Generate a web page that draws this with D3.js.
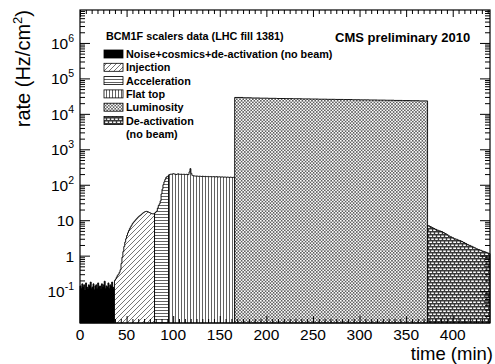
<!DOCTYPE html>
<html>
<head>
<meta charset="utf-8">
<script src="https://cdn.jsdelivr.net/npm/d3@7"></script>
<style>
  html, body { margin: 0; padding: 0; background: #fff; }
  svg { display: block; }
  text { font-family: "Liberation Sans", Arial, Helvetica, sans-serif; fill: #000; }
</style>
</head>
<body>
<svg id="chart" width="495" height="364"></svg>
<script>
// ---------- data ----------
const phaseNames = ["Noise+cosmics+de-activation (no beam)", "Injection", "Acceleration", "Flat top", "Luminosity", "De-activation"];
const phaseStart = [0, 37, 80, 95, 166, 373];   // min
const phaseEnd   = [37, 80, 95, 166, 373, 440]; // min
const binWidth   = [1, 1, 1, 1, 9, 2];          // min

const noiseVals = [0.14,0.12,0.16,0.13,0.15,0.11,0.17,0.13,0.12,0.15,
                   0.14,0.18,0.12,0.13,0.16,0.11,0.14,0.15,0.12,0.17,
                   0.13,0.14,0.12,0.16,0.13,0.15,0.19,0.12,0.14,0.13,
                   0.17,0.12,0.15,0.14,0.18,0.13,0.12];
const injectionVals = [0.2,0.22,0.25,0.28,0.3,0.34,0.4,0.6,0.9,1.3,
                       1.8,2.4,3.0,3.7,4.4,5.1,5.8,6.5,7.2,8.0,
                       8.7,9.3,10,10.7,11.4,12.2,12.9,13.5,14.2,15,
                       15.8,16.5,17.2,17.6,17.8,17.5,17,16.5,16,15.5,
                       15.2,15,15.3];
const accelerationVals = [16,17,18,22,26,29,35,55,75,100,120,140,160,170,175];
const flatTopVals = [190,195,200,198,202,205,200,198,195,200,
                     203,198,196,200,197,195,199,196,194,198,
                     195,193,230,285,210,185,180,178,176,175,
                     177,174,172,175,173,171,174,172,170,173,
                     171,169,172,170,168,171,169,167,170,168,
                     166,169,167,165,168,166,164,167,165,163,
                     166,164,162,165,163,161,164,162,160,163,161];
const luminosityVals = [29000,28400,28000,27700,27400,27100,26900,26700,26400,26200,
                        25900,25700,25500,25300,25000,24800,24600,24400,24200,23900,
                        23700,23500,23200];
const deactivationVals = [7.0,6.6,6.2,5.8,5.5,5.2,5.0,4.8,4.5,4.2,
                          3.9,3.6,3.4,3.2,3.0,2.9,2.75,2.65,2.5,2.35,
                          2.2,2.05,1.95,1.85,1.75,1.65,1.55,1.48,1.42,1.35,
                          1.3,1.24,1.18,1.14];
const phaseVals = [noiseVals, injectionVals, accelerationVals, flatTopVals, luminosityVals, deactivationVals];

const xTickValues = [0, 50, 100, 150, 200, 250, 300, 350, 400];
const yTickValues = [0.1, 1, 10, 100, 1e3, 1e4, 1e5, 1e6];
const yTickBase   = ["10", "1", "10", "10", "10", "10", "10", "10"];
const yTickExp    = ["-1", "", "", "2", "3", "4", "5", "6"];

const titleText  = "BCM1F scalers data (LHC fill 1381)";
const cmsText    = "CMS preliminary 2010";
const xAxisTitle = "time (min)";
const legendExtra = "(no beam)";

// ---------- layout ----------
const W = 495, H = 364;
const L = 80, R = 490, T = 10, B = 323;
const svg = d3.select("#chart");

const x = d3.scaleLinear().domain([0, 440]).range([L, R]);
const y = d3.scaleLog().domain([0.0126, 8.5e6]).range([B, T]);

// ---------- patterns ----------
const defs = svg.append("defs");
const hatchCol = "#3a3a3a";
const patIds = ["solid", "pInj", "pAcc", "pFlat", "pLumi", "pDeact"];

let p = defs.append("pattern").attr("id", "pInj").attr("patternUnits", "userSpaceOnUse").attr("width", 5).attr("height", 5);
p.append("rect").attr("width", 5).attr("height", 5).attr("fill", "#fff");
p.append("path").attr("d", "M0,5 L5,0 M-1,1 L1,-1 M4,6 L6,4").attr("stroke", hatchCol).attr("stroke-width", 0.7);

p = defs.append("pattern").attr("id", "pAcc").attr("patternUnits", "userSpaceOnUse").attr("width", 4).attr("height", 3);
p.append("rect").attr("width", 4).attr("height", 3).attr("fill", "#fff");
p.append("path").attr("d", "M0,1.5 L4,1.5").attr("stroke", hatchCol).attr("stroke-width", 0.8);

p = defs.append("pattern").attr("id", "pFlat").attr("patternUnits", "userSpaceOnUse").attr("width", 3).attr("height", 4);
p.append("rect").attr("width", 3).attr("height", 4).attr("fill", "#fff");
p.append("path").attr("d", "M1.5,0 L1.5,4").attr("stroke", hatchCol).attr("stroke-width", 0.8);

p = defs.append("pattern").attr("id", "pLumi").attr("patternUnits", "userSpaceOnUse").attr("width", 3.2).attr("height", 3.2);
p.append("rect").attr("width", 3.2).attr("height", 3.2).attr("fill", "#fff");
p.append("path").attr("d", "M0,0 L3.2,3.2 M3.2,0 L0,3.2").attr("stroke", "#555").attr("stroke-width", 0.75);

p = defs.append("pattern").attr("id", "pDeact").attr("patternUnits", "userSpaceOnUse").attr("width", 8).attr("height", 6);
p.append("rect").attr("width", 8).attr("height", 6).attr("fill", "#fff");
p.append("path").attr("d", "M0,0.75 L8,0.75 M0,3.75 L8,3.75 M0.5,0 L0.5,3 M4.5,0 L4.5,3 M2.5,3 L2.5,6 M6.5,3 L6.5,6")
  .attr("stroke", "#3a3a3a").attr("stroke-width", 1.4);

function fillFor(i) { return i === 0 ? "#000" : `url(#${patIds[i]})`; }

// ---------- histograms ----------
const area = d3.area()
  .x(d => x(d.t))
  .y0(y(y.domain()[0]))
  .y1(d => y(d.v))
  .curve(d3.curveStepAfter);

const gHist = svg.append("g");
phaseVals.forEach((vals, i) => {
  const pts = [];
  vals.forEach((v, k) => {
    const t = phaseStart[i] + k * binWidth[i];
    if (t < phaseEnd[i]) pts.push({ t: t, v: v });
  });
  pts.push({ t: phaseEnd[i], v: pts[pts.length - 1].v });
  gHist.append("path")
    .attr("d", area(pts))
    .attr("fill", fillFor(i))
    .attr("stroke", "#000")
    .attr("stroke-width", 0.9)
    .attr("stroke-linejoin", "miter");
});

// ---------- axes / ticks ----------
const yMinor = [];
for (let e = -2; e <= 6; e++) {
  for (let k = 2; k <= 9; k++) {
    const v = k * Math.pow(10, e);
    if (v > y.domain()[0] && v < y.domain()[1]) yMinor.push(v);
  }
}
yMinor.push(1e-2 * 10 > 0 ? 0 : 0);
const yMinorClean = yMinor.filter(v => v > 0);
const xMinor = d3.range(0, 440.01, 6.25).filter(v => v % 50 !== 0);

function styleAxis(g) {
  g.select(".domain").remove();
  g.selectAll("text").remove();
  g.selectAll("line").attr("stroke", "#000").attr("stroke-width", 1);
}

svg.append("g").attr("transform", `translate(${L},0)`)
  .call(d3.axisLeft(y).tickValues(yTickValues).tickSizeInner(-10).tickSizeOuter(0)).call(styleAxis);
svg.append("g").attr("transform", `translate(${L},0)`)
  .call(d3.axisLeft(y).tickValues(yMinorClean).tickSizeInner(-5).tickSizeOuter(0)).call(styleAxis);
svg.append("g").attr("transform", `translate(${R},0)`)
  .call(d3.axisRight(y).tickValues(yTickValues).tickSizeInner(-10).tickSizeOuter(0)).call(styleAxis);
svg.append("g").attr("transform", `translate(${R},0)`)
  .call(d3.axisRight(y).tickValues(yMinorClean).tickSizeInner(-5).tickSizeOuter(0)).call(styleAxis);

svg.append("g").attr("transform", `translate(0,${T})`)
  .call(d3.axisTop(x).tickValues(xTickValues).tickSizeInner(-7).tickSizeOuter(0)).call(styleAxis);
svg.append("g").attr("transform", `translate(0,${T})`)
  .call(d3.axisTop(x).tickValues(xMinor).tickSizeInner(-4).tickSizeOuter(0)).call(styleAxis);
svg.append("g").attr("transform", `translate(0,${B})`)
  .call(d3.axisBottom(x).tickValues(xTickValues).tickSizeInner(-7).tickSizeOuter(0)).call(styleAxis);
svg.append("g").attr("transform", `translate(0,${B})`)
  .call(d3.axisBottom(x).tickValues(xMinor).tickSizeInner(-4).tickSizeOuter(0)).call(styleAxis);

// frame
svg.append("rect").attr("x", L).attr("y", T).attr("width", R - L).attr("height", B - T)
  .attr("fill", "none").attr("stroke", "#000").attr("stroke-width", 1.2);

// x tick labels
svg.append("g").selectAll("text").data(xTickValues).join("text")
  .attr("x", d => x(d)).attr("y", 340)
  .attr("text-anchor", "middle").attr("font-size", 15.5)
  .attr("fill", "#222")
  .text(d => d);

// y tick labels
const yl = svg.append("g");
yTickValues.forEach((v, i) => {
  const t = yl.append("text").attr("x", 74).attr("y", y(v) + 6)
    .attr("text-anchor", "end").attr("font-size", 15.5).attr("fill", "#222");
  t.append("tspan").text(yTickBase[i]);
  if (yTickExp[i]) t.append("tspan").attr("font-size", 10.5).attr("dy", -7).text(yTickExp[i]);
});

// axis titles
svg.append("text").attr("x", 493).attr("y", 360).attr("text-anchor", "end")
  .attr("font-size", 18.5).attr("fill", "#222").text(xAxisTitle);

const yt = svg.append("text").attr("transform", `translate(30,10) rotate(-90)`)
  .attr("text-anchor", "end").attr("font-size", 20).attr("fill", "#222");
yt.append("tspan").text("rate (Hz/cm");
yt.append("tspan").attr("font-size", 13).attr("dy", -8).text("2");
yt.append("tspan").attr("dy", 8).text(")");

// titles
svg.append("text").attr("x", 106).attr("y", 40).attr("font-size", 10.8).attr("font-weight", "bold").text(titleText);
svg.append("text").attr("x", 335).attr("y", 41.5).attr("font-size", 13).attr("font-weight", "bold").text(cmsText);

// legend
const leg = svg.append("g");
phaseNames.forEach((name, i) => {
  const cy = 54 + i * 13.3;
  leg.append("rect").attr("x", 104).attr("y", cy - 4).attr("width", 19).attr("height", 8)
    .attr("fill", fillFor(i)).attr("stroke", "#000").attr("stroke-width", 0.8);
  leg.append("text").attr("x", 126).attr("y", cy + 4).attr("font-size", 10.8).attr("font-weight", "bold").text(name);
});
leg.append("text").attr("x", 126).attr("y", 54 + 6 * 13.3 + 4).attr("font-size", 10.8).attr("font-weight", "bold").text(legendExtra);
</script>
</body>
</html>
